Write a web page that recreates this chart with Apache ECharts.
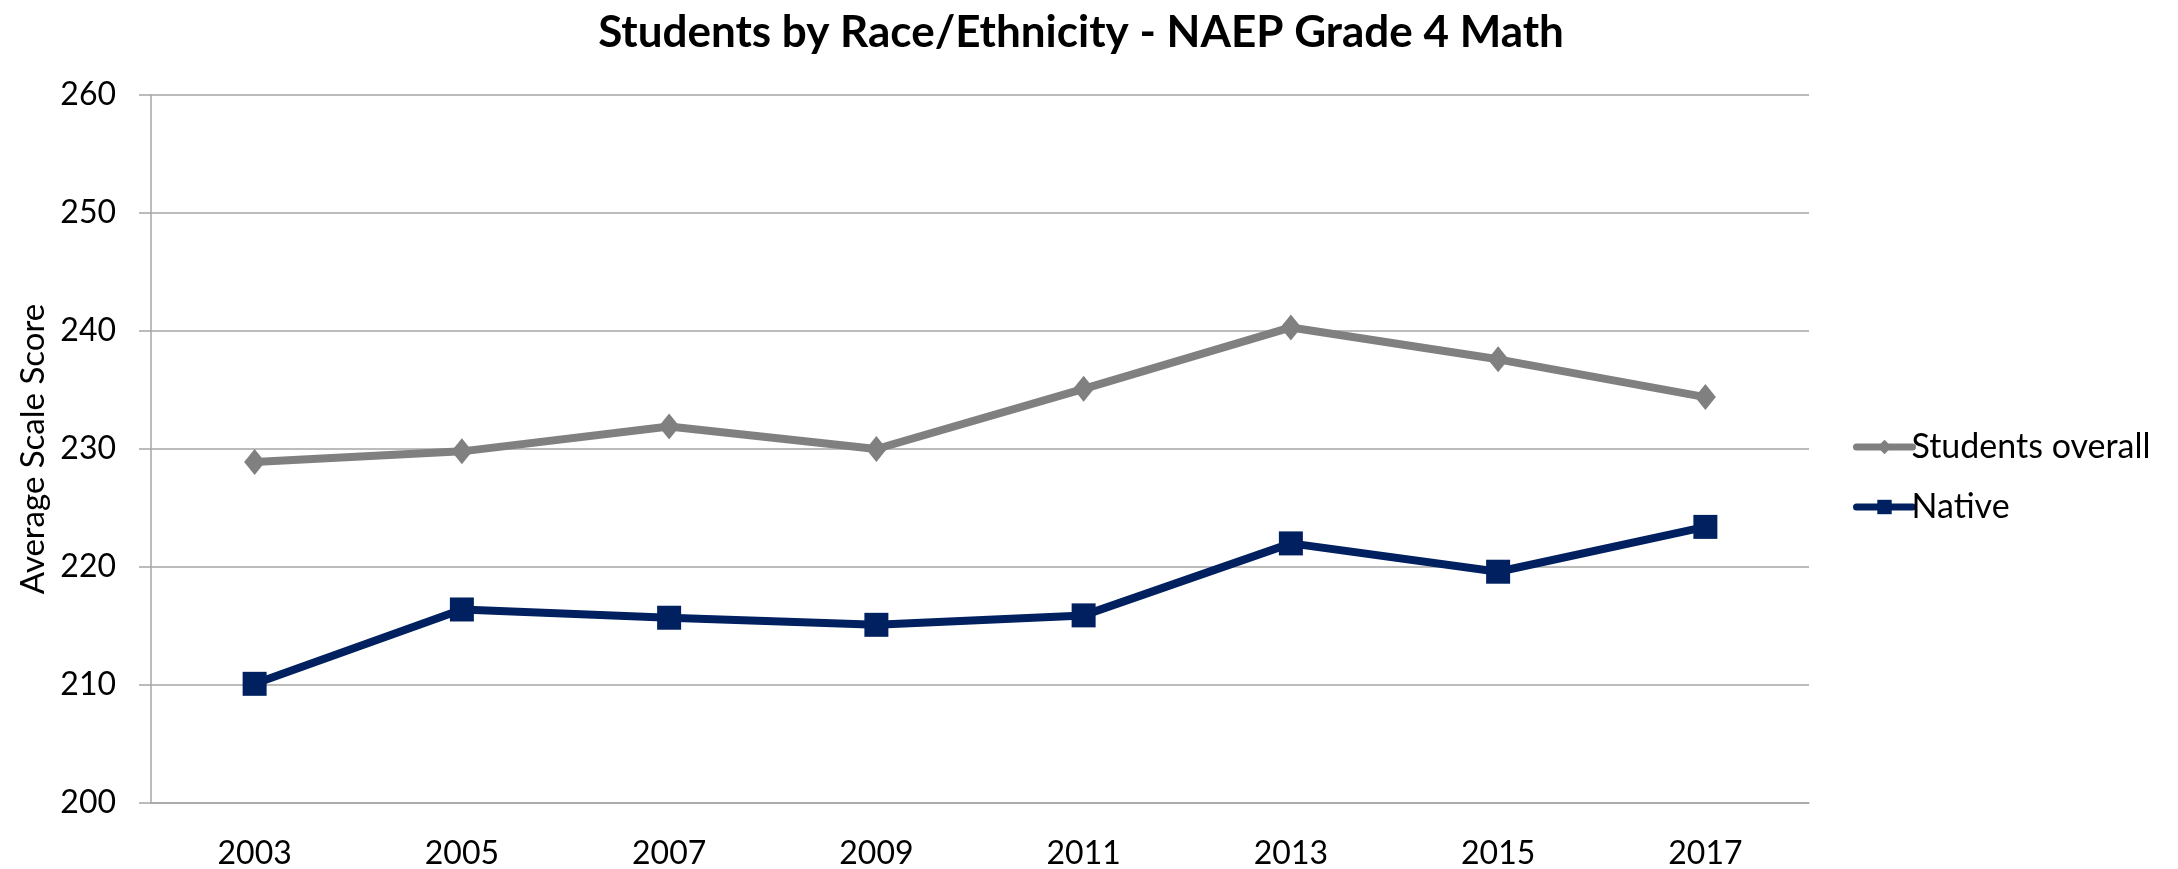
<!DOCTYPE html>
<html>
<head>
<meta charset="utf-8">
<script src="https://cdn.jsdelivr.net/npm/echarts@6/dist/echarts.min.js"></script>
<style>
  html, body { margin: 0; padding: 0; background: #fff; }
  #chart { width: 2178px; height: 869px; }
</style>
</head>
<body>
<div id="chart"></div>
<script>
// years on the x axis
const years = ['2003', '2005', '2007', '2009', '2011', '2013', '2015', '2017']
// average scale scores
const studentsOverall = [228.9, 229.8, 231.9, 230.0, 235.1, 240.3, 237.6, 234.4]
const native = [210.1, 216.4, 215.7, 215.1, 215.9, 222.0, 219.6, 223.4]

const font = 'Lato'
const chart = echarts.init(document.getElementById('chart'))

chart.setOption({
  animation: false,
  title: {
    text: 'Students by Race/Ethnicity - NAEP Grade 4 Math',
    left: 1076, top: 6, textAlign: 'center',
    textStyle: { fontFamily: font, fontWeight: 'bold', fontSize: 44, color: '#000' }
  },
  legend: {
    orient: 'vertical',
    left: 1848, top: 422,
    itemWidth: 56, itemHeight: 18, itemGap: 20,
    lineStyle: { width: 7, cap: 'round' },
    textStyle: { fontFamily: font, fontSize: 34, color: '#000', lineHeight: 40, padding: [0, 0, 0, -6] },
    data: ['Students overall', 'Native']
  },
  grid: { left: 151, right: 369, top: 95, bottom: 66, outerBoundsMode: 'none' },
  xAxis: {
    type: 'category', data: years,
    axisLine: { lineStyle: { color: '#a6a6a6', width: 1.5 } },
    axisTick: { length: 12, lineStyle: { color: '#a6a6a6', width: 1.5 } },
    axisLabel: { fontFamily: font, fontSize: 32, color: '#000', margin: 35 }
  },
  yAxis: {
    type: 'value', min: 200, max: 260, interval: 10,
    name: 'Average Scale Score', nameLocation: 'middle', nameGap: 101,
    nameTextStyle: { fontFamily: font, fontSize: 33, color: '#000' },
    axisLine: { show: true, lineStyle: { color: '#a6a6a6', width: 1.5 } },
    axisTick: { show: true, length: 12, lineStyle: { color: '#a6a6a6', width: 1.5 } },
    axisLabel: { fontFamily: font, fontSize: 32, color: '#000', margin: 35 },
    splitLine: { lineStyle: { color: '#a6a6a6', width: 1.5 } }
  },
  series: [
    {
      name: 'Students overall', type: 'line', data: studentsOverall,
      symbol: 'diamond', symbolSize: [21, 26],
      lineStyle: { color: '#808080', width: 8 },
      itemStyle: { color: '#808080' }
    },
    {
      name: 'Native', type: 'line', data: native,
      symbol: 'rect', symbolSize: 24,
      lineStyle: { color: '#002060', width: 8 },
      itemStyle: { color: '#002060' }
    }
  ]
})
</script>
</body>
</html>
